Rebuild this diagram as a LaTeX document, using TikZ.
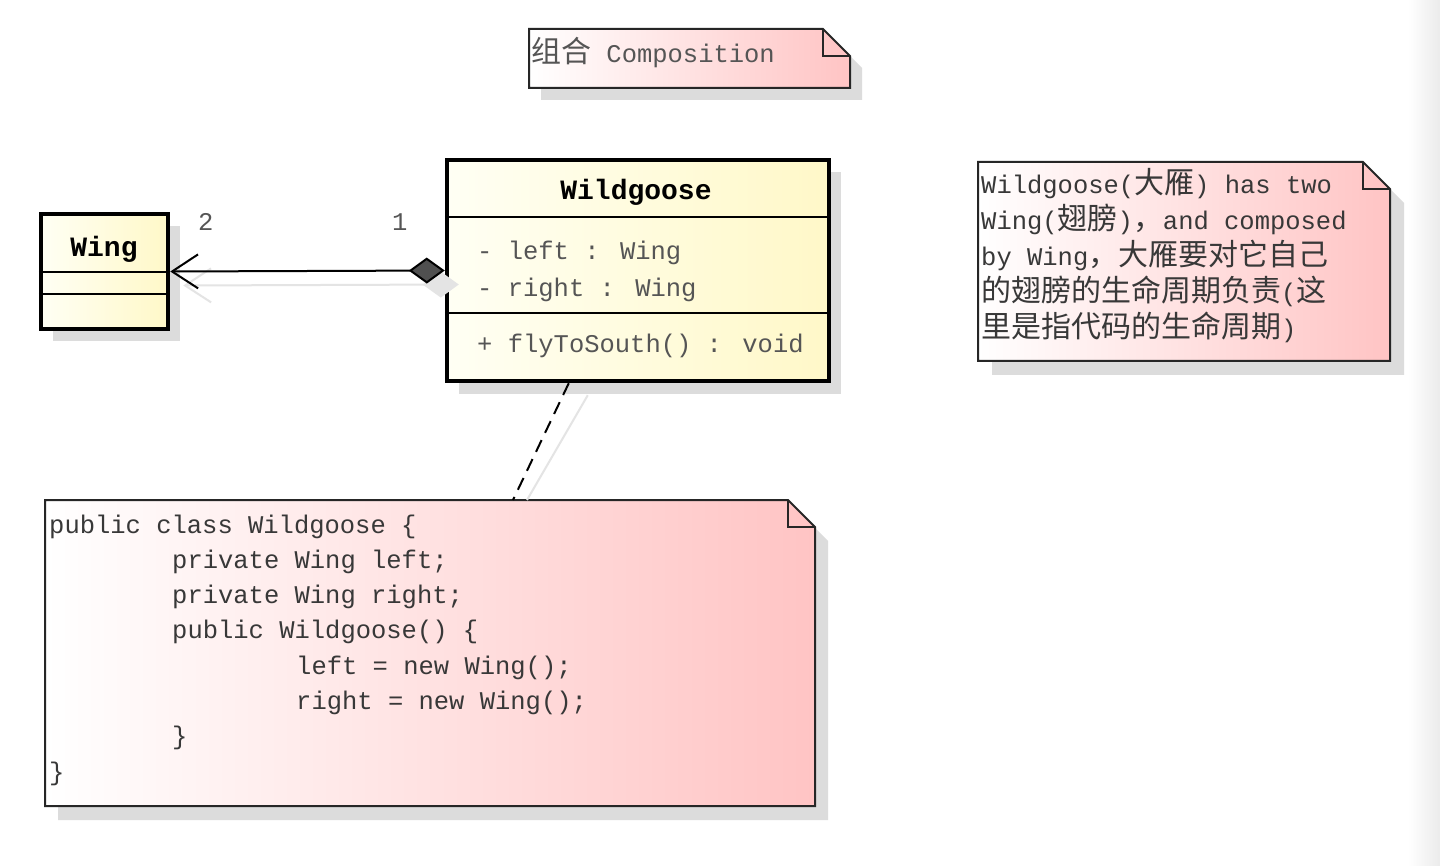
\documentclass[tikz,border=0pt]{standalone}
\usepackage{fontspec}
\setmainfont{Liberation Mono}
\newfontfamily\cjk{Noto Sans CJK SC}[Scale=1.176]
\usetikzlibrary{arrows.meta,calc}
\definecolor{notepink}{HTML}{FFC4C4}
\definecolor{classL}{HTML}{FFFFF4}
\definecolor{classR}{HTML}{FFF8C8}
\definecolor{shadowc}{HTML}{DCDCDC}
\definecolor{ghostc}{HTML}{E4E4E4}
\definecolor{txtc}{HTML}{383838}
\definecolor{attrc}{HTML}{555555}
\definecolor{edgec}{HTML}{EBEBEB}
\definecolor{diamc}{HTML}{505050}
\newcommand\zh[1]{{\cjk #1}}
\newcommand\notepath[5]{(#1,#2) -- (#3-#5,#2) -- (#3,#2+#5) -- (#3,#4) -- (#1,#4) -- cycle}
\newcommand\notefold[3]{(#1-#3,#2) -- (#1-#3,#2+#3) -- (#1,#2+#3)}
\begin{document}
\begin{tikzpicture}[x=1pt,y=-1pt,
  classbox/.style={draw=black, line width=4.5pt, left color=classL, right color=classR, rectangle, inner sep=0pt},
  sepline/.style={line width=2pt, draw=black},
  txt/.style={inner sep=0pt, anchor=base west, font=\fontsize{25.5}{30}\selectfont, text=txtc},
  hdr/.style={inner sep=0pt, anchor=base, font=\fontsize{28}{30}\selectfont\bfseries, text=black},
  notebox/.style={draw=black!85, line width=2pt, left color=white, right color=notepink},
  foldline/.style={draw=black!85, line width=2pt},
  shadowbox/.style={fill=shadowc, draw=none},
  ghost/.style={draw=ghostc, line width=2pt},
  conn/.style={draw=black, line width=2pt}
]
\useasboundingbox (0,0) rectangle (1440,866);
\fill[white] (0,0) rectangle (1440,866);
\shade[left color=white, right color=edgec] (1408,0) rectangle (1440,866);

% shadows
\fill[shadowbox] \notepath{541}{41}{862}{100}{27};
\fill[shadowbox] \notepath{992}{176}{1404}{375}{27};
\fill[shadowbox] \notepath{58}{514}{828}{820}{27};
\fill[shadowbox] (53,226) rectangle (180,341);
\fill[shadowbox] (459,172) rectangle (841,394);

% notes
\path[notebox] \notepath{529}{29}{850}{88}{27};
\draw[foldline] \notefold{850}{29}{27};
\path[notebox] \notepath{978}{162}{1390}{361}{27};
\draw[foldline] \notefold{1390}{162}{27};
\path[notebox] \notepath{45}{500}{815}{806}{27};
\draw[foldline] \notefold{815}{500}{27};

% classes
\node[classbox, minimum width=127pt, minimum height=115pt] (wing) at (104.5,271.5) {};
\node[classbox, minimum width=382pt, minimum height=221pt] (wg) at (638,270.5) {};

% ghost connectors (shadows)
\draw[ghost, {Straight Barb[length=26pt,width=34pt]}-{Diamond[length=36pt,width=26pt,fill=ghostc]}]
  ($(wing.east)+(13,14)$) -- ($(wg.west)+(14,14)$);
\draw[ghost] ($(wg.south west)+(143,12)$) -- (527,500);

\draw[sepline] ($(wing.north west)+(0,60)$) -- ($(wing.north east)+(0,60)$);
\draw[sepline] ($(wing.north west)+(0,82)$) -- ($(wing.north east)+(0,82)$);
\draw[sepline] ($(wg.north west)+(0,59)$) -- ($(wg.north east)+(0,59)$);
\draw[sepline] ($(wg.north west)+(0,155)$) -- ($(wg.north east)+(0,155)$);

% composition connector
\draw[conn, {Straight Barb[length=26pt,width=34pt]}-{Diamond[length=36pt,width=26pt,fill=diamc]}]
  (wing.east) -- (wg.west);

% note connector
\coordinate (dA) at ($(wg.south west)+(124,0)$);
\coordinate (dB) at (513,500);
\draw[conn, dash pattern=on 13pt off 8pt] (dA) -- (dB);

% texts
\node[txt, text=attrc] (title) at (531,63) {\zh{组合} Composition};

\node[hdr] (wingname) at (104,257) {Wing};
\node[hdr] (wgname) at (636,200) {Wildgoose};
\node[txt, text=attrc] (a1) at (477,260) {- left : Wing};
\node[txt, text=attrc] (a2) at (477,297) {- right : Wing};
\node[txt, text=attrc] (m1) at (477,353) {+ flyToSouth() : void};

\node[txt, text=attrc] (mult2) at (198,231) {2};
\node[txt, text=attrc] (mult1) at (392,231) {1};

\node[txt] (n1) at (981,194) {Wildgoose(\zh{大雁}) has two};
\node[txt] (n2) at (981,230) {Wing(\zh{翅膀})\zh{，}and composed};
\node[txt] (n3) at (981,266) {by Wing\zh{，大雁要对它自己}};
\node[txt] (n4) at (981,302) {\zh{的翅膀的生命周期负责}(\zh{这}};
\node[txt] (n5) at (981,338) {\zh{里是指代码的生命周期})};

\node[txt] (c1) at (49,533) {public class Wildgoose \{};
\node[txt] (c2) at (172,568.3) {private Wing left;};
\node[txt] (c3) at (172,603.6) {private Wing right;};
\node[txt] (c4) at (172,638.9) {public Wildgoose() \{};
\node[txt] (c5) at (296,674.2) {left = new Wing();};
\node[txt] (c6) at (296,709.5) {right = new Wing();};
\node[txt] (c7) at (172,744.8) {\}};
\node[txt] (c8) at (49,780) {\}};
\end{tikzpicture}
\end{document}
